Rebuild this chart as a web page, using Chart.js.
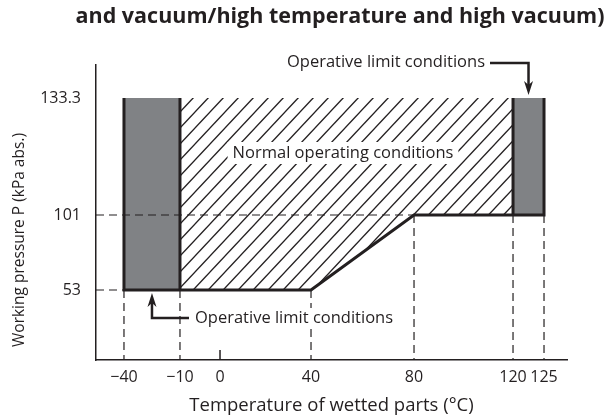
<!DOCTYPE html>
<html>
<head>
<meta charset="utf-8">
<script src="https://cdn.jsdelivr.net/npm/chart.js@4"></script>
<style>
  html, body { margin: 0; padding: 0; background: #fff; }
</style>
</head>
<body>
<canvas id="chart" width="608" height="418"></canvas>
<script>
// axis ticks
const xTicks = [-40, -10, 0, 40, 80, 120, 125];
const xTickLabels = ['\u221240', '\u221210', '0', '40', '80', '120', '125'];
const yTicks = [53, 101, 133.3];
const yTickLabels = ['53', '101', '133.3'];

// normal operating region (temperature °C / pressure kPa abs.)
const normalTemp = [-10, -10, 40, 80, 120, 120];
const normalPress = [133.3, 53, 53, 101, 101, 133.3];

// operative limit blocks
const lowLimitTemp = [-40, -10];
const lowLimitPress = [53, 133.3];
const highLimitTemp = [120, 125];
const highLimitPress = [101, 133.3];

// outer boundary
const edgeTemp = [-40, -40, 40, 80, 125, 125];
const edgePress = [133.3, 53, 53, 101, 101, 133.3];

// dashed reference lines drop from these corners
const guideTemp = [-40, -10, 40, 80, 120, 125];
const guidePress = [53, 53, 53, 101, 101, 101];

const INK = '#231f20';
const GREY = '#808285';
const FONT = '"Open Sans", sans-serif';

// the drawing is schematic: ticks are not evenly spaced, so the axes are piecewise linear
const axisStops = {
  x: [[-50, 0], [-40, 0.0594], [-10, 0.1783], [0, 0.2633], [40, 0.4565], [80, 0.6752], [120, 0.8854], [125, 0.9512], [135, 1]],
  y: [[0, 0], [53, 0.2373], [101, 0.4915], [133.3, 0.8881], [145, 1]]
};

class PiecewiseScale extends Chart.LinearScale {
  getPixelForValue(value) {
    const s = axisStops[this.id];
    let i = 1;
    while (i < s.length - 1 && value > s[i][0]) i++;
    const [v0, f0] = s[i - 1], [v1, f1] = s[i];
    return this.getPixelForDecimal(f0 + (value - v0) / (v1 - v0) * (f1 - f0));
  }
  getValueForPixel(pixel) {
    const s = axisStops[this.id];
    const d = this.getDecimalForPixel(pixel);
    let i = 1;
    while (i < s.length - 1 && d > s[i][1]) i++;
    const [v0, f0] = s[i - 1], [v1, f1] = s[i];
    return v0 + (d - f0) / (f1 - f0) * (v1 - v0);
  }
}
PiecewiseScale.id = 'piecewise';
PiecewiseScale.defaults = Chart.LinearScale.defaults;
Chart.register(PiecewiseScale);

function hatchPattern() {
  const w = 15, h = 16;
  const c = document.createElement('canvas');
  c.width = w; c.height = h;
  const g = c.getContext('2d');
  g.strokeStyle = INK;
  g.lineWidth = 1.3;
  for (const [dx, dy] of [[0, 0], [-w, 0], [w, 0], [0, -h], [0, h]]) {
    g.beginPath();
    g.moveTo(dx, h + dy);
    g.lineTo(w + dx, dy);
    g.stroke();
  }
  return g.createPattern(c, 'repeat');
}

const pts = (xs, ys) => xs.map((x, i) => ({ x: x, y: ys[i] }));
const box = (xs, ys) => pts([xs[0], xs[1], xs[1], xs[0]], [ys[0], ys[0], ys[1], ys[1]]);

const lineBase = { showLine: true, pointRadius: 0, tension: 0, fill: false };
const datasets = [];

// outer boundary and the inner block edges
datasets.push({ ...lineBase, data: pts(edgeTemp, edgePress), borderColor: INK, borderWidth: 3 });
datasets.push({ ...lineBase, data: pts([lowLimitTemp[1], lowLimitTemp[1]], lowLimitPress), borderColor: INK, borderWidth: 3 });
datasets.push({ ...lineBase, data: pts([highLimitTemp[0], highLimitTemp[0]], highLimitPress), borderColor: INK, borderWidth: 3 });

// dashed guides
guideTemp.forEach((t, i) => {
  datasets.push({ ...lineBase, data: pts([t, t], [guidePress[i], 0]), borderColor: INK, borderWidth: 1.2, borderDash: [8, 5] });
});
[...new Set(guidePress)].forEach(p => {
  const tEnd = Math.min(...guideTemp.filter((t, i) => guidePress[i] === p));
  datasets.push({ ...lineBase, data: pts([-50, tEnd], [p, p]), borderColor: INK, borderWidth: 1.2, borderDash: [8, 5] });
});

// filled regions
datasets.push({ ...lineBase, data: box(lowLimitTemp, lowLimitPress), borderWidth: 0, backgroundColor: GREY, fill: 'shape' });
datasets.push({ ...lineBase, data: box(highLimitTemp, highLimitPress), borderWidth: 0, backgroundColor: GREY, fill: 'shape' });
datasets.push({ ...lineBase, data: pts(normalTemp, normalPress), borderWidth: 0, backgroundColor: hatchPattern(), fill: 'shape' });

function labelBox(ctx, text, x, y, align, pad) {
  ctx.textAlign = align;
  ctx.textBaseline = 'middle';
  const w = ctx.measureText(text).width;
  const left = align === 'left' ? x : align === 'right' ? x - w : x - w / 2;
  ctx.fillStyle = '#fff';
  ctx.fillRect(left - pad[0], y - pad[1], w + pad[0] * 2, pad[1] * 2);
  ctx.fillStyle = INK;
  ctx.fillText(text, x, y);
}

function arrowHead(ctx, x, y, dir) {
  ctx.beginPath();
  ctx.moveTo(x, y);
  ctx.lineTo(x - 4.5, y - dir * 14);
  ctx.lineTo(x, y - dir * 10);
  ctx.lineTo(x + 4.5, y - dir * 14);
  ctx.closePath();
  ctx.fill();
}

const annotations = {
  id: 'annotations',
  afterDatasetsDraw(chart) {
    const { ctx, scales: { x, y } } = chart;
    ctx.save();
    ctx.fillStyle = INK;
    ctx.strokeStyle = INK;

    // small tick marks where no guide line falls
    ctx.lineWidth = 1.5;
    xTicks.filter(t => !guideTemp.includes(t)).forEach(t => {
      const px = x.getPixelForValue(t);
      ctx.beginPath();
      ctx.moveTo(px, y.bottom);
      ctx.lineTo(px, y.bottom - 10);
      ctx.stroke();
    });

    ctx.font = '16.5px ' + FONT;
    labelBox(ctx, 'Normal operating conditions', 343, 153, 'center', [5, 11]);

    // top callout
    const hx = x.getPixelForValue((highLimitTemp[0] + highLimitTemp[1]) / 2);
    const hy = y.getPixelForValue(highLimitPress[1]);
    ctx.fillStyle = INK;
    ctx.textAlign = 'right';
    ctx.textBaseline = 'middle';
    ctx.fillText('Operative limit conditions', 485, 62);
    ctx.lineWidth = 2.5;
    ctx.beginPath();
    ctx.moveTo(490, 63);
    ctx.lineTo(hx, 63);
    ctx.lineTo(hx, hy - 10);
    ctx.stroke();
    arrowHead(ctx, hx, hy - 3, 1);

    // bottom callout
    const lx = x.getPixelForValue((lowLimitTemp[0] + lowLimitTemp[1]) / 2);
    const ly = y.getPixelForValue(lowLimitPress[0]);
    ctx.beginPath();
    ctx.moveTo(lx, ly + 12);
    ctx.lineTo(lx, 318);
    ctx.lineTo(189, 318);
    ctx.stroke();
    arrowHead(ctx, lx, ly + 3, -1);
    labelBox(ctx, 'Operative limit conditions', 195, 318, 'left', [2, 10]);

    // y axis title
    ctx.fillStyle = INK;
    ctx.font = '15.5px ' + FONT;
    ctx.translate(20, 240);
    ctx.rotate(-Math.PI / 2);
    ctx.textAlign = 'center';
    ctx.textBaseline = 'middle';
    ctx.fillText('Working pressure P (kPa abs.)', 0, 0);
    ctx.restore();

    // heading (first line is cut off in the source)
    ctx.save();
    ctx.fillStyle = INK;
    ctx.font = 'bold 21.5px ' + FONT;
    ctx.textAlign = 'center';
    ctx.textBaseline = 'middle';
    ctx.fillText('and vacuum/high temperature and high vacuum)', 340, 17);
    ctx.restore();
  }
};

new Chart(document.getElementById('chart'), {
  type: 'scatter',
  data: { datasets: datasets },
  plugins: [annotations],
  options: {
    responsive: false,
    animation: false,
    layout: { padding: { top: 65, right: 41, left: 0, bottom: 0 } },
    plugins: { legend: { display: false }, tooltip: { enabled: false } },
    scales: {
      x: {
        type: 'piecewise',
        min: -50, max: 135,
        grid: { display: false },
        border: { color: INK, width: 1.5 },
        afterFit: s => { s.height = 58; },
        afterBuildTicks: s => { s.ticks = xTicks.map(v => ({ value: v })); },
        ticks: {
          autoSkip: false, maxRotation: 0, padding: 0,
          color: INK, font: { family: FONT, size: 16 },
          callback: (v, i) => xTickLabels[i]
        },
        title: {
          display: true, text: 'Temperature of wetted parts (\u00b0C)',
          color: INK, font: { family: FONT, size: 18.5 },
          padding: { top: 0, bottom: 1 }
        }
      },
      y: {
        type: 'piecewise',
        min: 0, max: 145,
        grid: { display: false },
        border: { color: INK, width: 1.5 },
        afterFit: s => { s.width = 96; },
        afterBuildTicks: s => { s.ticks = yTicks.map(v => ({ value: v })); },
        ticks: {
          autoSkip: false, padding: 7,
          color: INK, font: { family: FONT, size: 16 },
          callback: (v, i) => yTickLabels[i]
        }
      }
    }
  }
});
</script>
</body>
</html>
